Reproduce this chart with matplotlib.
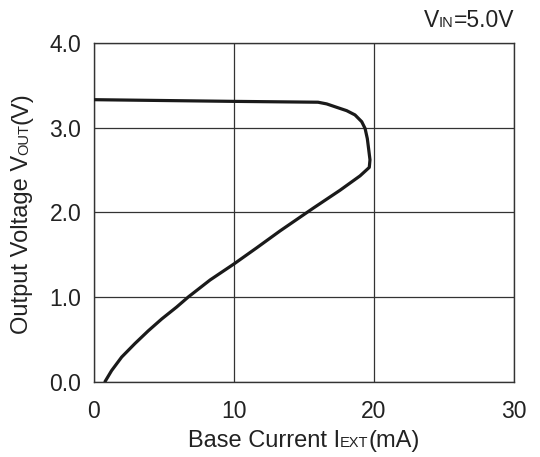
#!/usr/bin/env python3

"""
Output voltage vs. base current curve
"""

import matplotlib
matplotlib.use("Agg")
import matplotlib.pyplot as plt

plt.rcParams["font.family"] = ["Liberation Sans", "DejaVu Sans"]

# base current (mA) and output voltage (V)
i_ext = [0.79, 1.26, 1.98, 2.93, 3.88, 4.84, 5.9, 6.74, 8.29, 10.0, 11.62,
         13.29, 15.67, 17.57, 19.0, 19.66, 19.71, 19.62, 19.52, 19.36,
         19.12, 18.64, 18.05, 17.33, 16.62, 16.0, 10.0, 0.0]
v_out = [0.0, 0.13, 0.29, 0.45, 0.60, 0.74, 0.88, 1.0, 1.2, 1.39, 1.58,
         1.78, 2.05, 2.26, 2.43, 2.53, 2.62, 2.74, 2.87, 2.99,
         3.07, 3.15, 3.20, 3.24, 3.28, 3.30, 3.31, 3.33]

xticks = [0, 10, 20, 30]
yticks = [0.0, 1.0, 2.0, 3.0, 4.0]

fig = plt.figure(figsize=(5.4, 4.57), dpi=100)
ax = fig.add_axes([0.174, 0.165, 0.778, 0.741])

ax.plot(i_ext, v_out, color="#1a1a1a", lw=2.3, solid_capstyle="round",
        solid_joinstyle="round", zorder=3)

ax.set_xlim(0, 30)
ax.set_ylim(0, 4)
ax.set_xticks(xticks)
ax.set_yticks(yticks)
ax.set_xticklabels([str(t) for t in xticks])
ax.set_yticklabels(["%.1f" % t for t in yticks])
ax.tick_params(length=0, labelsize=16.5, colors="#222222")
ax.tick_params(axis="x", pad=13)
ax.tick_params(axis="y", pad=9)
ax.grid(True, color="#333333", lw=0.9)
for s in ax.spines.values():
    s.set_color("#333333")
    s.set_linewidth(1.0)


def rich_text(pieces, x, y, rotation=0, ha="center"):
    # place pieces of text of different sizes one after another on one baseline
    r = fig.canvas.get_renderer()
    objs = []
    for txt, size in pieces:
        objs.append(fig.text(0, 0, txt, fontsize=size, color="#222222",
                             rotation=rotation, va="baseline", ha="left",
                             rotation_mode="anchor"))
    widths = []
    for t in objs:
        bb = t.get_window_extent(r)
        widths.append(bb.height if rotation else bb.width)
    total = sum(widths)
    W, H = fig.bbox.width, fig.bbox.height
    start = -total / 2 if ha == "center" else -total
    pos = start
    for t, w in zip(objs, widths):
        if rotation:
            t.set_position((x, y + pos / H))
        else:
            t.set_position((x + pos / W, y))
        pos += w


rich_text([("Base Current I", 17), ("EXT", 10.5), ("(mA)", 17)],
          304 / 540, 1 - 447 / 457)
rich_text([("Output Voltage V", 17), ("OUT", 10.5), ("(V)", 17)],
          28 / 540, 1 - 213 / 457, rotation=90)
rich_text([("V", 16.5), ("IN", 10.5), ("=5.0V", 16.5)],
          514 / 540, 1 - 27 / 457, ha="right")

fig.savefig("out.png", dpi=100)
plt.close(fig)
